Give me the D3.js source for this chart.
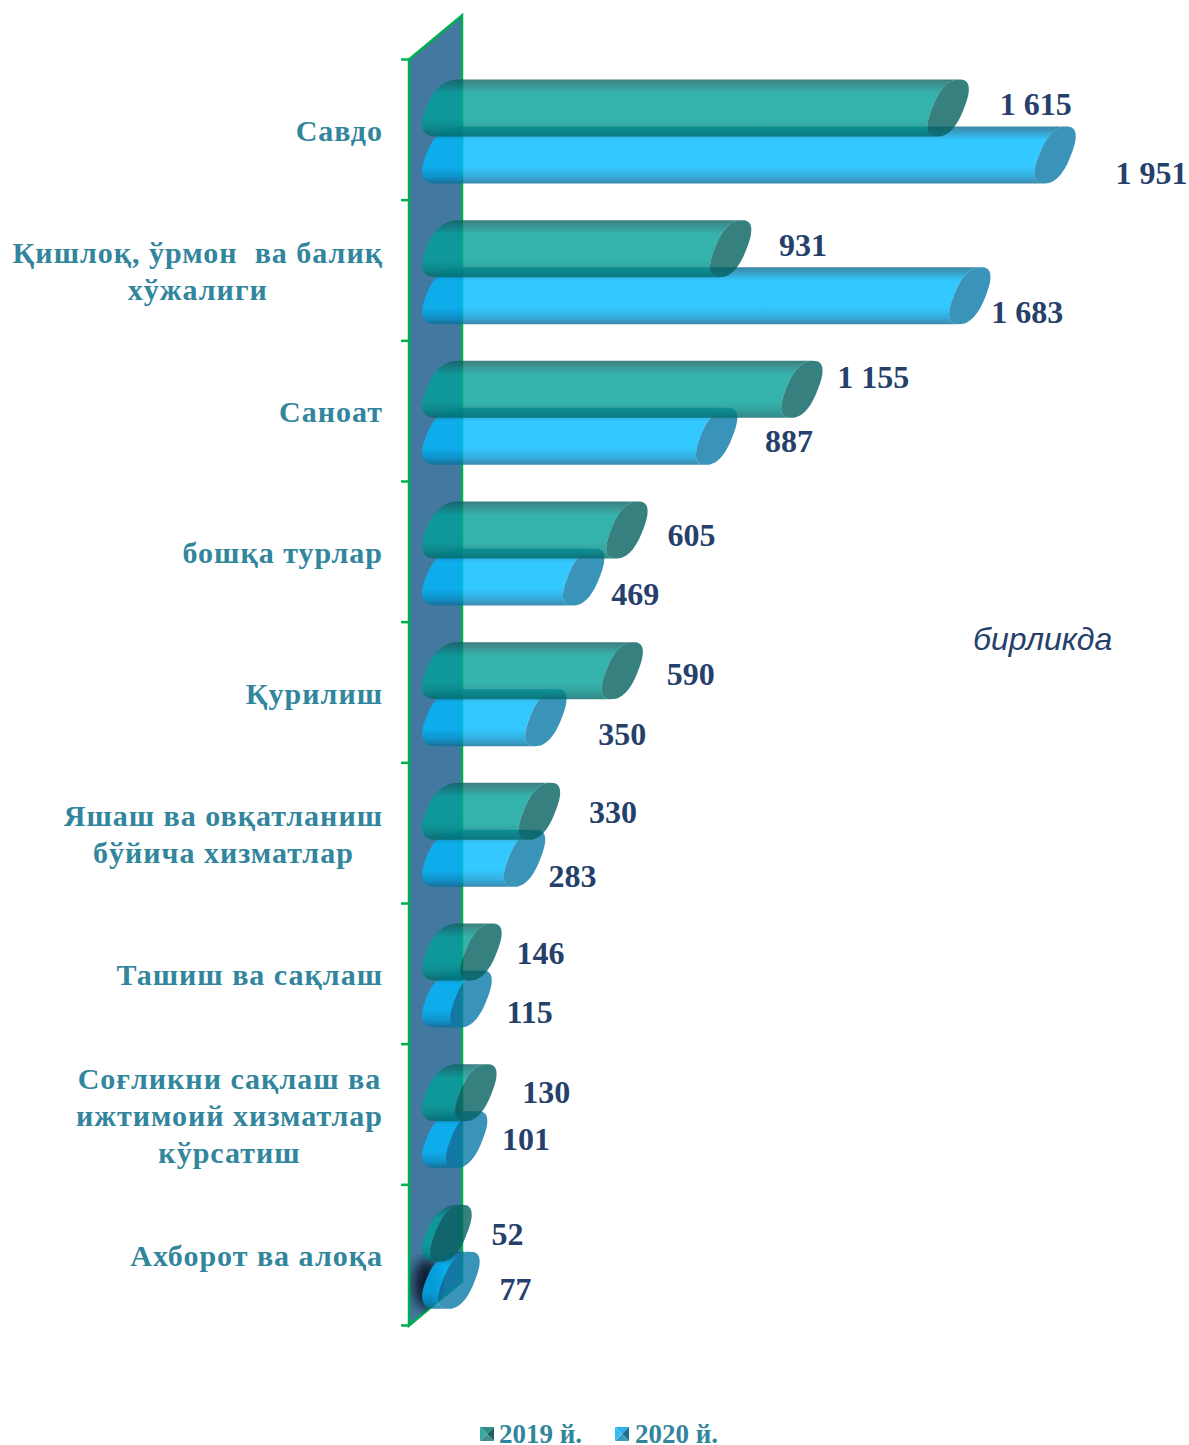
<!DOCTYPE html>
<html>
<head>
<meta charset="utf-8">
<script src="https://d3js.org/d3.v7.min.js"></script>
<style>
    html, body { margin: 0; padding: 0; background: #fff; }
    svg { display: block; }
    .cat { font: bold 30px "Liberation Serif", serif; fill: #31859c; letter-spacing: 1px; }
    .val { font: bold 32px "Liberation Serif", serif; fill: #25406a; }
    .unit { font: italic 32px "Liberation Sans", sans-serif; fill: #25406a; }
    .leg { font: bold 27px "Liberation Serif", serif; fill: #31859c; }
</style>
</head>
<body>
<script>
// chart values
var categories = [
    ["Савдо"],
    ["Қишлоқ, ўрмон  ва балиқ", "хўжалиги"],
    ["Саноат"],
    ["бошқа турлар"],
    ["Қурилиш"],
    ["Яшаш ва овқатланиш", "бўйича хизматлар"],
    ["Ташиш ва сақлаш"],
    ["Соғликни сақлаш ва", "ижтимоий хизматлар", "кўрсатиш"],
    ["Ахборот ва алоқа"]
];
var values2019 = [1615, 931, 1155, 605, 590, 330, 146, 130, 52];
var values2020 = [1951, 1683, 887, 469, 350, 283, 115, 101, 77];

// hand placed value labels: offset from bar end (dx), offset from band top (dy)
var dx2019 = [32, 29, 16, 21, 25, 30, 16, 27, 21];
var dy2019 = [45, 46, 37, 54, 53, 50, 50, 49, 50];
var dx2020 = [41, 2, 29, 8, 33, 4.5, 16, 16, 21];
var dy2020 = [114, 113, 101, 113, 113, 114, 109, 96, 105];

var w = 1189, h = 1445;
var container = d3.select("body").append("svg")
    .attr("width", w)
    .attr("height", h);
var defs = container.append("defs");

// scales
var x = d3.scaleLinear().domain([0, 1951]).range([434.5, 1055]); // centre of the end cap
var y = d3.scaleBand().domain(d3.range(categories.length)).range([59.5, 1325.5]);
var barH = 57, capRy = barH / 2;
var baseCx = 448; // centre of the rounded back end

// wall of the 3d chart
var wallDepth = 53, wallRise = 44;
var wallD = "M409," + y.range()[0] + "L" + (409 + wallDepth) + "," + (y.range()[0] - wallRise) +
    "V" + (y.range()[1] - wallRise) + "L409," + y.range()[1] + "Z";
container.append("path")
    .attr("d", wallD)
    .style("fill", "#4379a0")
    .style("stroke", "#00b050")
    .style("stroke-width", 2.5);
defs.append("clipPath").attr("id", "wallClip").append("path").attr("d", wallD);

// axis ticks sit on the band edges
var tickVals = y.domain().map(function(d){ return y(d); }).concat(y.range()[1]);
container.selectAll(".tick").data(tickVals).enter().append("line")
    .attr("class", "tick")
    .attr("x1", 401).attr("x2", 409)
    .attr("y1", function(d){ return d; })
    .attr("y2", function(d){ return d; })
    .style("stroke", "#00b050")
    .style("stroke-width", 2.5);

// shadow on the wall near the last bars
defs.append("filter").attr("id", "blur").append("feGaussianBlur").attr("stdDeviation", 6);
container.append("g").attr("clip-path", "url(#wallClip)")
    .append("ellipse")
    .attr("cx", 427).attr("cy", 1284).attr("rx", 14).attr("ry", 25)
    .attr("filter", "url(#blur)")
    .style("fill", "#0b1a30");

// vertical shading of the cylinders
function gradient(id, stops){
    var g = defs.append("linearGradient").attr("id", id)
        .attr("x1", 0).attr("y1", 0).attr("x2", 0).attr("y2", 1);
    stops.forEach(function(s){
        g.append("stop").attr("offset", s[0]).attr("stop-color", s[1]);
    });
}
gradient("teal", [[0, "#0c5f60"], [0.06, "#0d6f70"], [0.24, "#02a098"], [0.7, "#02a098"], [0.85, "#018d88"], [1, "#006866"]]);
gradient("blue", [[0, "#08688e"], [0.06, "#0a7aa6"], [0.24, "#00baff"], [0.7, "#00baff"], [0.88, "#0498d4"], [1, "#0c6d96"]]);

// tilted rounded outline of a cylinder end
function capPoint(cx, cy, rx, t){
    var n = 2.5, c = Math.cos(t), s = Math.sin(t);
    var px = Math.sign(c) * Math.pow(Math.abs(c), 2 / n);
    var py = Math.sign(s) * Math.pow(Math.abs(s), 2 / n);
    return [cx + rx * px - 11 * py, cy + capRy * py];
}
var line = d3.line();
var angles = d3.range(0, 49).map(function(i){ return i / 48 * Math.PI; });
var capRx = 16;

function capPath(cx, cy, rx){
    var pts = d3.range(0, 96).map(function(i){ return capPoint(cx, cy, rx, i / 96 * 2 * Math.PI); });
    return line(pts) + "Z";
}
function bodyPath(cx, cy){
    // back end left half, then front cap left half run in reverse
    var back = angles.map(function(a){ return capPoint(baseCx, cy, 22, a + Math.PI / 2); });
    var front = angles.map(function(a){ return capPoint(Math.max(cx, baseCx), cy, capRx, Math.PI / 2 + a); }).reverse();
    return line(back.concat(front)) + "Z";
}

function drawSeries(values, top, fillId, capFill){
    var g = container.append("g");
    g.selectAll(".body").data(values).enter().append("path")
        .attr("class", "body")
        .attr("d", function(d, i){ return bodyPath(x(d), y(i) + top + capRy); })
        .style("fill", "url(#" + fillId + ")")
        .style("opacity", 0.8);
    g.selectAll(".cap").data(values).enter().append("path")
        .attr("class", "cap")
        .attr("d", function(d, i){ return capPath(x(d), y(i) + top + capRy, capRx); })
        .style("fill", capFill)
        .style("opacity", 0.8);
}
// 2020 goes underneath 2019
drawSeries(values2020, 67, "blue", "#0978a6");
drawSeries(values2019, 20, "teal", "#056060");

// value labels
function drawValues(values, dx, dy){
    container.selectAll(null).data(values).enter().append("text")
        .attr("class", "val")
        .attr("x", function(d, i){ return x(d) + 19.5 + dx[i]; })
        .attr("y", function(d, i){ return y(i) + dy[i] + 10; })
        .text(function(d){ return d3.format(",")(d).replace(",", " "); });
}
drawValues(values2019, dx2019, dy2019);
drawValues(values2020, dx2020, dy2020);

// category labels: lines centred on each other, block right edge at the axis gap
var lineGap = 37;
categories.forEach(function(lines, i){
    var mid = y(i) + y.bandwidth() / 2 + 1 - (lines.length - 1) * lineGap / 2;
    var t = container.selectAll(null).data(lines).enter().append("text")
        .attr("class", "cat")
        .attr("text-anchor", "middle")
        .style("white-space", "pre")
        .attr("y", function(d, j){ return mid + j * lineGap + 10; })
        .text(function(d){ return d; });
    var widest = d3.max(t.nodes(), function(n){ return n.getComputedTextLength(); });
    t.attr("x", 383 - widest / 2);
});

// unit note
container.append("text").attr("class", "unit")
    .attr("x", 973).attr("y", 650)
    .text("бирликда");

// legend
var legend = [
    { name: "2019 й.", left: "#35a8a0", top: "#2f8f8a", right: "#1f5f66", bottom: "#3f8f8c", x: 480 },
    { name: "2020 й.", left: "#33c0f5", top: "#2fb0e6", right: "#1f6f8e", bottom: "#3a9cc0", x: 615 }
];
legend.forEach(function(l){
    var s = 14, t = 1427, c = s / 2;
    var g = container.append("g").attr("transform", "translate(" + l.x + "," + t + ")");
    [[l.top, [[0, 0], [s, 0], [c, c]]],
     [l.right, [[s, 0], [s, s], [c, c]]],
     [l.bottom, [[0, s], [s, s], [c, c]]],
     [l.left, [[0, 0], [0, s], [c, c]]]].forEach(function(p){
        g.append("path").attr("d", line(p[1]) + "Z").style("fill", p[0]);
    });
    container.append("text").attr("class", "leg")
        .attr("x", l.x + (l.x == 480 ? 19 : 20)).attr("y", 1442.5)
        .text(l.name);
});
</script>
</body>
</html>
